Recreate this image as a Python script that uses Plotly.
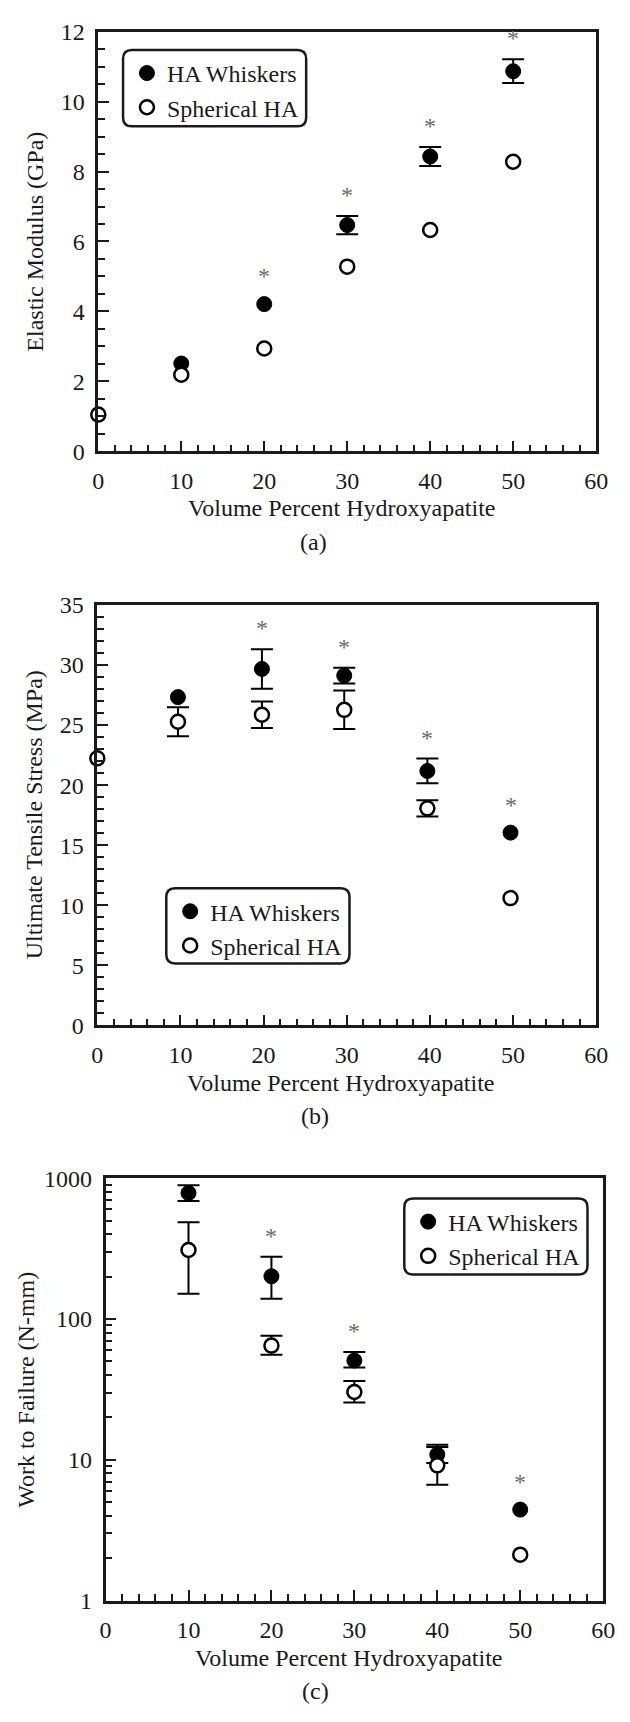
import math
import plotly.graph_objects as go

W, H = 630, 1722
FONT = '"Liberation Serif", "Times New Roman", Times, serif'
INK = "#1a1a1a"

# ---------------- data ----------------
vol_wh = [10, 20, 30, 40, 50]
vol_sph = [0, 10, 20, 30, 40, 50]
vol_wh_b = [9.7, 19.8, 29.7, 39.7, 49.7]
vol_sph_b = [0, 9.7, 19.8, 29.7, 39.7, 49.7]

# (a) elastic modulus, GPa  (None = no visible error bar)
mod_wh = [2.51, 4.21, 6.47, 8.43, 10.87]
mod_wh_err = [None, None, 0.26, 0.27, 0.34]
mod_sph = [1.05, 2.19, 2.94, 5.28, 6.33, 8.28]
mod_sph_err = [None, None, None, None, None, None]
mod_sig = [False, True, True, True, True]

# (b) ultimate tensile stress, MPa
uts_wh = [27.33, 29.67, 29.12, 21.18, 16.05]
uts_wh_err = [None, 1.65, 0.66, 1.03, None]
uts_sph = [22.23, 25.28, 25.86, 26.27, 18.07, 10.6]
uts_sph_err = [None, 1.2, 1.1, 1.6, 0.67, None]
uts_sig = [False, True, True, True, True]

# (c) work to failure, N-mm
wtf_wh = [784, 201, 50.7, 10.9, 4.43]
wtf_wh_up = [107, 76, 7.6, 1.9, None]
wtf_wh_dn = [95, 62, 5.5, 1.4, None]
wtf_sph = [309, 64.7, 30.3, 9.14, 2.12]
wtf_sph_up = [178, 11.2, 6.0, 3.2, None]
wtf_sph_dn = [158, 8.9, 4.8, 2.5, None]
wtf_sig = [False, True, True, False, True]

x_title = "Volume Percent Hydroxyapatite"
series_names = ["HA Whiskers", "Spherical HA"]
y_titles = ["Elastic Modulus (GPa)", "Ultimate Tensile Stress (MPa)", "Work to Failure (N-mm)"]
letters = ["(a)", "(b)", "(c)"]


def fx(px):
    return px / W


def fy(py):
    return 1 - py / H


fig = go.Figure()

panels = [
    dict(ax="", xw=vol_wh, xs=vol_sph, yw=mod_wh, ewu=mod_wh_err, ewd=mod_wh_err,
         ys=mod_sph, esu=mod_sph_err, esd=mod_sph_err, sig=mod_sig, leg="legend", log=False),
    dict(ax="2", xw=vol_wh_b, xs=vol_sph_b, yw=uts_wh, ewu=uts_wh_err, ewd=uts_wh_err,
         ys=uts_sph, esu=uts_sph_err, esd=uts_sph_err, sig=uts_sig, leg="legend2", log=False),
    dict(ax="3", xw=vol_wh, xs=vol_wh, yw=wtf_wh, ewu=wtf_wh_up, ewd=wtf_wh_dn,
         ys=wtf_sph, esu=wtf_sph_up, esd=wtf_sph_dn, sig=wtf_sig, leg="legend3", log=True),
]

MSIZE = 15
marker_styles = [
    dict(size=MSIZE, color="black", line=dict(color="black", width=1)),
    dict(size=MSIZE - 1, color="white", line=dict(color="black", width=2.5)),
]


def add_series(xs, ys, up, dn, name, marker, xa, ya, leg):
    """Points with error bars and points without are split so that no
    zero-length caps are drawn."""
    with_bar = [i for i, u in enumerate(up) if u is not None]
    no_bar = [i for i, u in enumerate(up) if u is None]
    first = True
    for idx, bars in ((with_bar, True), (no_bar, False)):
        if not idx:
            continue
        tr = go.Scatter(
            x=[xs[i] for i in idx], y=[ys[i] for i in idx], mode="markers",
            name=name, xaxis=xa, yaxis=ya, legend=leg, legendgroup=leg + name,
            showlegend=first, cliponaxis=False, marker=marker,
        )
        if bars:
            tr.error_y = dict(type="data", symmetric=False,
                              array=[up[i] for i in idx], arrayminus=[dn[i] for i in idx],
                              color="black", thickness=2, width=11)
        fig.add_trace(tr)
        first = False


for p in panels:
    xa, ya = "x" + p["ax"], "y" + p["ax"]
    add_series(p["xw"], p["yw"], p["ewu"], p["ewd"], series_names[0], marker_styles[0],
               xa, ya, p["leg"])
    add_series(p["xs"], p["ys"], p["esu"], p["esd"], series_names[1], marker_styles[1],
               xa, ya, p["leg"])
    # significance asterisks above the whisker points
    for x, y, e, s in zip(p["xw"], p["yw"], p["ewu"], p["sig"]):
        if not s:
            continue
        top = y + (e or 0)
        fig.add_annotation(
            x=x, y=math.log10(top) if p["log"] else top, xref=xa, yref=ya,
            text="*", showarrow=False, yshift=21 if e else 28, yanchor="middle",
            font=dict(family=FONT, size=24, color="#6a6a6a"),
        )

# plot areas in pixels: (left, right, top, bottom)
boxes = {
    "": (95, 607.5, 19, 445),
    "2": (94, 607.5, 601, 1028),
    "3": (102.5, 614.7, 1183, 1612),
}

axis_common = dict(
    showline=True, linecolor=INK, linewidth=2.5, mirror=True,
    ticks="inside", tickcolor=INK, tickwidth=2, ticklen=11,
    showgrid=False, zeroline=False,
    tickfont=dict(family=FONT, size=24, color=INK),
    ticklabelstandoff=6,
)

y_ranges = {"": (0, 12, 2, 0.5), "2": (0, 35, 5, 1)}
for key, (l, r, t, b) in boxes.items():
    fig.layout["xaxis" + key] = dict(
        axis_common, domain=[fx(l), fx(r)], range=[0, 60], dtick=10, tick0=0,
        anchor="y" + key,
        minor=dict(ticks="inside", dtick=2, ticklen=7, tickwidth=2, tickcolor=INK),
    )
    if key in y_ranges:
        lo, hi, dt, mdt = y_ranges[key]
        fig.layout["yaxis" + key] = dict(
            axis_common, domain=[fy(b), fy(t)], range=[lo, hi], dtick=dt, tick0=0,
            anchor="x" + key,
            minor=dict(ticks="inside", dtick=mdt, ticklen=7, tickwidth=2, tickcolor=INK),
        )
    else:
        fig.layout["yaxis" + key] = dict(
            axis_common, domain=[fy(b), fy(t)], type="log", range=[0, 3],
            tickvals=[1, 10, 100, 1000], ticktext=["1", "10", "100", "1000"],
            anchor="x" + key,
            minor=dict(ticks="inside", dtick="D1", ticklen=7, tickwidth=2, tickcolor=INK),
        )

# axis titles and panel letters
y_title_x = [30, 29, 21]
letter_x = [317, 318, 319]
for (key, (l, r, t, b)), yt, ytx, let, lx in zip(boxes.items(), y_titles, y_title_x,
                                                letters, letter_x):
    cx = (l + r) / 2 - 6
    fig.add_annotation(x=fx(cx), y=fy(b + 58), xref="paper", yref="paper",
                       text=x_title, showarrow=False, yanchor="middle",
                       font=dict(family=FONT, size=24, color=INK))
    fig.add_annotation(x=fx(lx), y=fy(b + 92), xref="paper", yref="paper",
                       text=let, showarrow=False, yanchor="middle",
                       font=dict(family=FONT, size=24, color=INK))
    fig.add_annotation(x=fx(ytx), y=fy((t + b) / 2), xref="paper", yref="paper",
                       text=yt, showarrow=False, textangle=-90, xanchor="center",
                       yanchor="middle", font=dict(family=FONT, size=24, color=INK))

# legends with rounded frames
legend_frames = {
    "legend": (120.5, 309, 37.5, 115),
    "legend2": (165, 353.6, 888.6, 965),
    "legend3": (410, 598.6, 1203.7, 1280.8),
}
R = 9
for name, (l, r, t, b) in legend_frames.items():
    fig.layout[name] = dict(
        x=fx(l + 4), y=fy(t + 1), xanchor="left", yanchor="top",
        bgcolor="rgba(0,0,0,0)", borderwidth=0,
        font=dict(family=FONT, size=24, color=INK),
        tracegroupgap=0, itemsizing="trace",
    )
    path = (f"M {fx(l+R)},{fy(t)} L {fx(r-R)},{fy(t)} Q {fx(r)},{fy(t)} {fx(r)},{fy(t+R)} "
            f"L {fx(r)},{fy(b-R)} Q {fx(r)},{fy(b)} {fx(r-R)},{fy(b)} "
            f"L {fx(l+R)},{fy(b)} Q {fx(l)},{fy(b)} {fx(l)},{fy(b-R)} "
            f"L {fx(l)},{fy(t+R)} Q {fx(l)},{fy(t)} {fx(l+R)},{fy(t)} Z")
    fig.add_shape(type="path", path=path, xref="paper", yref="paper",
                  line=dict(color=INK, width=2.5), fillcolor="rgba(0,0,0,0)")

fig.update_layout(
    width=W, height=H, margin=dict(l=0, r=0, t=0, b=0),
    paper_bgcolor="white", plot_bgcolor="white", showlegend=True,
    font=dict(family=FONT, size=24, color=INK),
)

fig.write_html("out.html", config={"displayModeBar": False})
